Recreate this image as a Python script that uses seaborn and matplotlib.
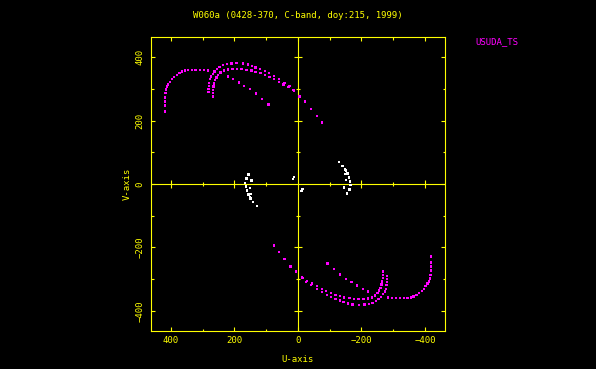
import numpy as np
import pandas as pd
import matplotlib
matplotlib.use("Agg")
import matplotlib.pyplot as plt
import seaborn as sns
from matplotlib.ticker import MultipleLocator

YELLOW = "#ffff00"
MAGENTA = "#ff00ff"

# uv tracks (upper half); the conjugate points (-u, -v) are plotted too
outer_u = [418, 418, 418, 418, 417, 415, 412, 408, 402, 397, 390, 381, 373, 364, 355, 345, 334, 322, 308, 296, 283]
outer_v = [228, 247, 260, 272, 286, 298, 307, 314, 322, 330, 337, 343, 349, 354, 358, 360, 360, 360, 360, 360, 358]

arc1_u = [281, 281, 280, 279, 277, 274, 268, 262, 254, 246, 235, 223, 209, 193, 172, 157, 144, 133, 119, 104,
          91, 75, 60, 42, 26, 13, -5, -23, -42, -60, -75]
arc1_v = [289, 299, 309, 319, 330, 338, 346, 355, 362, 369, 375, 378, 380, 382, 380, 376, 372, 367, 362, 356,
          349, 340, 330, 319, 309, 294, 275, 260, 237, 215, 194]

arc2_u = [267, 267, 267, 265, 263, 260, 256, 251, 243, 233, 220, 206, 191, 177, 162, 146, 133, 118, 104, 89,
          75, 60, 45, 29, 16]
arc2_v = [275, 286, 296, 307, 317, 328, 336, 343, 351, 357, 361, 363, 363, 362, 360, 357, 353, 349, 343, 337,
          330, 322, 314, 305, 296]

diag_u = [220, 204, 186, 169, 151, 132, 113, 93]
diag_v = [338, 330, 320, 309, 299, 285, 268, 250]

white_u = [155, 162, 166, 164, 160, 156, 149, 141, 129, 151, 149, 151, 146, 15, 12]
white_v = [30, 17, 4, -8, -20, -33, -46, -56, -70, -12, -31, -43, 11, 16, 22]

ticks_major = [-400, -200, 200, 400]
ticks_minor = [-300, -100, 100, 300]


def build_frame():
    rows = []
    for us, vs, src in [(outer_u, outer_v, "USUDA_TS"), (arc1_u, arc1_v, "USUDA_TS"),
                        (arc2_u, arc2_v, "USUDA_TS"), (diag_u, diag_v, "USUDA_TS"),
                        (white_u, white_v, "other")]:
        u = np.array(us, dtype=float)
        v = np.array(vs, dtype=float)
        rows.append(pd.DataFrame({"u": np.r_[u, -u], "v": np.r_[v, -v], "src": src}))
    return pd.concat(rows, ignore_index=True)


def main():
    plt.rcParams["font.family"] = ["DejaVu Sans Mono"]
    df = build_frame()

    fig = plt.figure(figsize=(5.96, 3.69), dpi=100, facecolor="black")
    ax = fig.add_axes([0.2529, 0.1030, 0.4938, 0.7967])
    ax.set_facecolor("black")

    # cross through origin
    ax.axhline(0, color=YELLOW, lw=0.8, zorder=1)
    ax.axvline(0, color=YELLOW, lw=0.8, zorder=1)
    zeros_maj = np.zeros(len(ticks_major))
    zeros_min = np.zeros(len(ticks_minor))
    ax.plot(ticks_major, zeros_maj, ls="none", marker="|", ms=6.2, mew=0.8, color=YELLOW, zorder=1)
    ax.plot(ticks_minor, zeros_min, ls="none", marker="|", ms=3.4, mew=0.8, color=YELLOW, zorder=1)
    ax.plot(zeros_maj, ticks_major, ls="none", marker="_", ms=6.2, mew=0.8, color=YELLOW, zorder=1)
    ax.plot(zeros_min, ticks_minor, ls="none", marker="_", ms=3.4, mew=0.8, color=YELLOW, zorder=1)

    sns.scatterplot(data=df, x="u", y="v", hue="src",
                    palette={"USUDA_TS": MAGENTA, "other": "white"},
                    marker="s", s=3.0, linewidth=0, legend=False, ax=ax, zorder=3)

    ax.set_xlim(463, -463)
    ax.set_ylim(-463, 463)
    ax.xaxis.set_major_locator(MultipleLocator(200))
    ax.xaxis.set_minor_locator(MultipleLocator(100))
    ax.yaxis.set_major_locator(MultipleLocator(200))
    ax.yaxis.set_minor_locator(MultipleLocator(100))

    for side in ax.spines.values():
        side.set_color(YELLOW)
        side.set_linewidth(0.8)

    ax.tick_params(which="both", direction="in", top=True, right=True,
                   color=YELLOW, labelcolor=YELLOW, labelsize=6.5, width=0.8)
    ax.tick_params(which="major", length=3.0)
    ax.tick_params(which="minor", length=1.8)
    ax.tick_params(axis="x", pad=3.5)
    ax.tick_params(axis="y", pad=4.5)
    for lab in ax.get_yticklabels():
        lab.set_rotation(90)
        lab.set_va("center")

    ax.set_xlabel("U-axis", color=YELLOW, fontsize=6.5)
    ax.set_ylabel("V-axis", color=YELLOW, fontsize=6.5)
    ax.xaxis.set_label_coords(0.5, -0.081)
    ax.yaxis.set_label_coords(-0.064, 0.5)

    fig.text(298 / 596, 1 - 16 / 369, "W060a (0428-370, C-band, doy:215, 1999)",
             color=YELLOW, fontsize=6.5, ha="center", va="center")
    fig.text(497 / 596, 1 - 42 / 369, "USUDA_TS", color=MAGENTA, fontsize=6.5,
             ha="center", va="center")

    fig.savefig("out.png", dpi=100, facecolor="black")
    plt.close(fig)


if __name__ == "__main__":
    main()
